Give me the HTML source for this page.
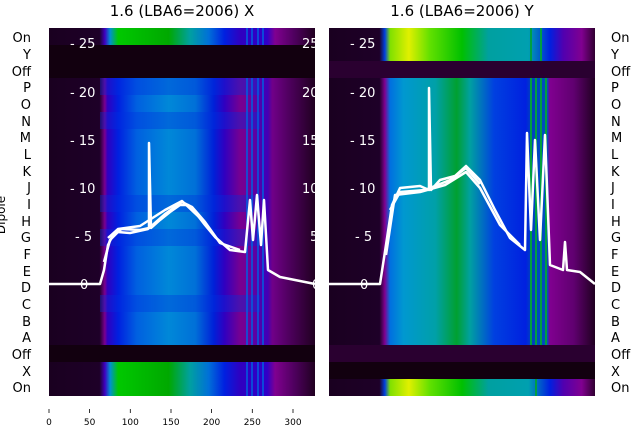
<!DOCTYPE html>
<html><head><meta charset="utf-8"><style>
body{margin:0;background:#fff;width:640px;height:440px;overflow:hidden;font-family:"Liberation Sans","DejaVu Sans",sans-serif}
</style></head><body>
<svg width="640" height="440" xmlns="http://www.w3.org/2000/svg" font-family="DejaVu Sans, Liberation Sans, sans-serif">
<defs>
<linearGradient id="lm" gradientUnits="userSpaceOnUse" x1="49" x2="315" y1="0" y2="0">
<stop offset="0" stop-color="#1a0020"/><stop offset="0.19" stop-color="#1e0028"/><stop offset="0.21" stop-color="#7a0090"/><stop offset="0.22" stop-color="#3000c0"/><stop offset="0.26" stop-color="#0020e0"/><stop offset="0.33" stop-color="#0060e0"/><stop offset="0.45" stop-color="#0088d8"/><stop offset="0.55" stop-color="#0070d8"/><stop offset="0.62" stop-color="#0020d8"/><stop offset="0.66" stop-color="#3000c0"/><stop offset="0.72" stop-color="#780090"/><stop offset="0.75" stop-color="#700098"/><stop offset="0.82" stop-color="#4000b8"/><stop offset="0.84" stop-color="#700088"/><stop offset="0.90" stop-color="#500060"/><stop offset="1" stop-color="#200020"/></linearGradient>
<linearGradient id="lg" gradientUnits="userSpaceOnUse" x1="49" x2="315" y1="0" y2="0">
<stop offset="0" stop-color="#1a0020"/><stop offset="0.19" stop-color="#1e0028"/><stop offset="0.21" stop-color="#4000c0"/><stop offset="0.23" stop-color="#0090d0"/><stop offset="0.26" stop-color="#00c800"/><stop offset="0.45" stop-color="#00a800"/><stop offset="0.53" stop-color="#00a0a0"/><stop offset="0.60" stop-color="#0070d8"/><stop offset="0.66" stop-color="#0020e0"/><stop offset="0.72" stop-color="#3000c0"/><stop offset="0.82" stop-color="#3000c8"/><stop offset="0.85" stop-color="#800090"/><stop offset="0.92" stop-color="#500060"/><stop offset="1" stop-color="#200020"/></linearGradient>
<linearGradient id="rm" gradientUnits="userSpaceOnUse" x1="329" x2="595" y1="0" y2="0">
<stop offset="0" stop-color="#1a0020"/><stop offset="0.19" stop-color="#1e0028"/><stop offset="0.21" stop-color="#800090"/><stop offset="0.23" stop-color="#0070e0"/><stop offset="0.28" stop-color="#0098d0"/><stop offset="0.40" stop-color="#00a0a8"/><stop offset="0.48" stop-color="#00a030"/><stop offset="0.53" stop-color="#00a0a0"/><stop offset="0.62" stop-color="#0040e0"/><stop offset="0.74" stop-color="#0020e0"/><stop offset="0.76" stop-color="#0040c0"/><stop offset="0.82" stop-color="#0050c0"/><stop offset="0.83" stop-color="#800090"/><stop offset="0.92" stop-color="#600070"/><stop offset="1" stop-color="#200020"/></linearGradient>
<linearGradient id="rg" gradientUnits="userSpaceOnUse" x1="329" x2="595" y1="0" y2="0">
<stop offset="0" stop-color="#1a0020"/><stop offset="0.19" stop-color="#1e0028"/><stop offset="0.21" stop-color="#0040e0"/><stop offset="0.23" stop-color="#80e000"/><stop offset="0.30" stop-color="#e0f000"/><stop offset="0.38" stop-color="#60e000"/><stop offset="0.50" stop-color="#00c000"/><stop offset="0.60" stop-color="#00a0a0"/><stop offset="0.75" stop-color="#00a0b0"/><stop offset="0.83" stop-color="#0020e0"/><stop offset="0.88" stop-color="#5000b0"/><stop offset="0.95" stop-color="#800090"/><stop offset="1" stop-color="#300030"/></linearGradient>
</defs>
<!-- left panel -->
<rect x="49" y="28" width="266" height="368" fill="url(#lm)"/>
<rect x="49" y="28" width="266" height="17" fill="url(#lg)"/>
<rect x="49" y="45" width="266" height="33" fill="#12000f"/>
<rect x="49" y="345" width="266" height="17" fill="#12000f"/>
<rect x="49" y="362" width="266" height="34" fill="url(#lg)"/>
<g fill="#0030e0" opacity="0.35"><rect x="100" y="78" width="160" height="17"/><rect x="100" y="112" width="160" height="17"/><rect x="100" y="195" width="160" height="17"/><rect x="100" y="229" width="160" height="17"/><rect x="100" y="295" width="160" height="17"/></g>
<g stroke="#0060e0" stroke-width="1.5"><line x1="247" y1="28" x2="247" y2="45"/><line x1="252" y1="28" x2="252" y2="45"/><line x1="258" y1="28" x2="258" y2="45"/><line x1="263" y1="28" x2="263" y2="45"/><line x1="247" y1="78" x2="247" y2="345"/><line x1="252" y1="78" x2="252" y2="345"/><line x1="258" y1="78" x2="258" y2="345"/><line x1="263" y1="78" x2="263" y2="345"/><line x1="247" y1="362" x2="247" y2="396"/><line x1="252" y1="362" x2="252" y2="396"/><line x1="258" y1="362" x2="258" y2="396"/><line x1="263" y1="362" x2="263" y2="396"/></g>
<!-- right panel -->
<rect x="329" y="28" width="266" height="368" fill="url(#rm)"/>
<rect x="329" y="28" width="266" height="33" fill="url(#rg)"/>
<rect x="329" y="61" width="266" height="17" fill="#2a0030"/>
<rect x="329" y="345" width="266" height="17" fill="#2a0030"/>
<rect x="329" y="362" width="266" height="17" fill="#12000f"/>
<rect x="329" y="379" width="266" height="17" fill="url(#rg)"/>
<g stroke="#00a040" stroke-width="2"><line x1="531" y1="78" x2="531" y2="345"/><line x1="536" y1="78" x2="536" y2="345"/><line x1="541" y1="78" x2="541" y2="345"/><line x1="546" y1="78" x2="546" y2="345"/><line x1="531" y1="28" x2="531" y2="61"/><line x1="541" y1="28" x2="541" y2="61"/><line x1="536" y1="379" x2="536" y2="396"/></g>
<!-- lines -->
<g fill="none" stroke="#fff" stroke-width="2.5" stroke-linejoin="round">
<polyline points="49,284 100,284 104,270 108,245 114,233 122,229 140,230 149,228 149,143 151,228 160,220 170,212 180,205 188,205 195,212 205,225 215,237 230,250 245,252 250,200 253,240 257,195 261,245 264,200 268,270 280,277 315,284"/>
<polyline points="104,262 110,240 118,232 130,233 148,229 165,214 182,202 192,207 205,222 220,243 240,250"/>
<polyline points="108,238 118,229 140,226 165,210 182,201 200,218"/>
<polyline points="329,284 380,284 386,245 392,205 400,188 420,186 429,190 429,88 431,190 440,180 455,176 466,166 480,180 495,210 510,238 525,250 527,133 531,230 535,140 540,240 545,135 550,265 563,270 565,242 567,270 580,272 595,284"/>
<polyline points="386,255 395,195 420,192 445,185 466,172 480,188 500,225 520,245"/>
<polyline points="390,210 400,192 425,190 450,180 466,168 480,184"/>
</g>
<g font-size="13" fill="#fff">
<text x="70" y="48">- 25</text><text x="70" y="97">- 20</text><text x="70" y="145">- 15</text><text x="70" y="193">- 10</text><text x="75" y="241">- 5</text><text x="80" y="289">0</text>
<text x="302" y="48">25</text><text x="302" y="97">20</text><text x="302" y="145">15</text><text x="302" y="193">10</text><text x="310" y="241">5</text><text x="312" y="289">0</text>
<text x="350" y="48">- 25</text><text x="350" y="97">- 20</text><text x="350" y="145">- 15</text><text x="350" y="193">- 10</text><text x="355" y="241">- 5</text><text x="360" y="289">0</text>
</g>
<g font-size="14" fill="#000">
<text x="182" y="16" text-anchor="middle" font-size="15">1.6 (LBA6=2006) X</text>
<text x="462" y="16" text-anchor="middle" font-size="15">1.6 (LBA6=2006) Y</text>
</g>
<g font-size="13" fill="#000" text-anchor="end">
<text x="31" y="42">On</text><text x="31" y="59">Y</text><text x="31" y="76">Off</text><text x="31" y="92">P</text><text x="31" y="109">O</text><text x="31" y="126">N</text><text x="31" y="142">M</text><text x="31" y="159">L</text><text x="31" y="176">K</text><text x="31" y="192">J</text><text x="31" y="209">I</text><text x="31" y="226">H</text><text x="31" y="242">G</text><text x="31" y="259">F</text><text x="31" y="276">E</text><text x="31" y="292">D</text><text x="31" y="309">C</text><text x="31" y="326">B</text><text x="31" y="342">A</text><text x="31" y="359">Off</text><text x="31" y="376">X</text><text x="31" y="392">On</text>
</g>
<g font-size="13" fill="#000" text-anchor="start">
<text x="611" y="42">On</text><text x="611" y="59">Y</text><text x="611" y="76">Off</text><text x="611" y="92">P</text><text x="611" y="109">O</text><text x="611" y="126">N</text><text x="611" y="142">M</text><text x="611" y="159">L</text><text x="611" y="176">K</text><text x="611" y="192">J</text><text x="611" y="209">I</text><text x="611" y="226">H</text><text x="611" y="242">G</text><text x="611" y="259">F</text><text x="611" y="276">E</text><text x="611" y="292">D</text><text x="611" y="309">C</text><text x="611" y="326">B</text><text x="611" y="342">A</text><text x="611" y="359">Off</text><text x="611" y="376">X</text><text x="611" y="392">On</text>
</g>
<text transform="translate(5,215) rotate(-90)" font-size="12" text-anchor="middle">Dipole</text>
<g stroke="#000" stroke-width="0.8"><line x1="49" y1="409" x2="49" y2="413"/><line x1="89.6" y1="409" x2="89.6" y2="413"/><line x1="130.3" y1="409" x2="130.3" y2="413"/><line x1="171" y1="409" x2="171" y2="413"/><line x1="211.6" y1="409" x2="211.6" y2="413"/><line x1="252.3" y1="409" x2="252.3" y2="413"/><line x1="293" y1="409" x2="293" y2="413"/></g>
<g font-size="9" text-anchor="middle"><text x="49" y="425">0</text><text x="89.6" y="425">50</text><text x="130.3" y="425">100</text><text x="171" y="425">150</text><text x="211.6" y="425">200</text><text x="252.3" y="425">250</text><text x="293" y="425">300</text></g>
</svg>
</body></html>
